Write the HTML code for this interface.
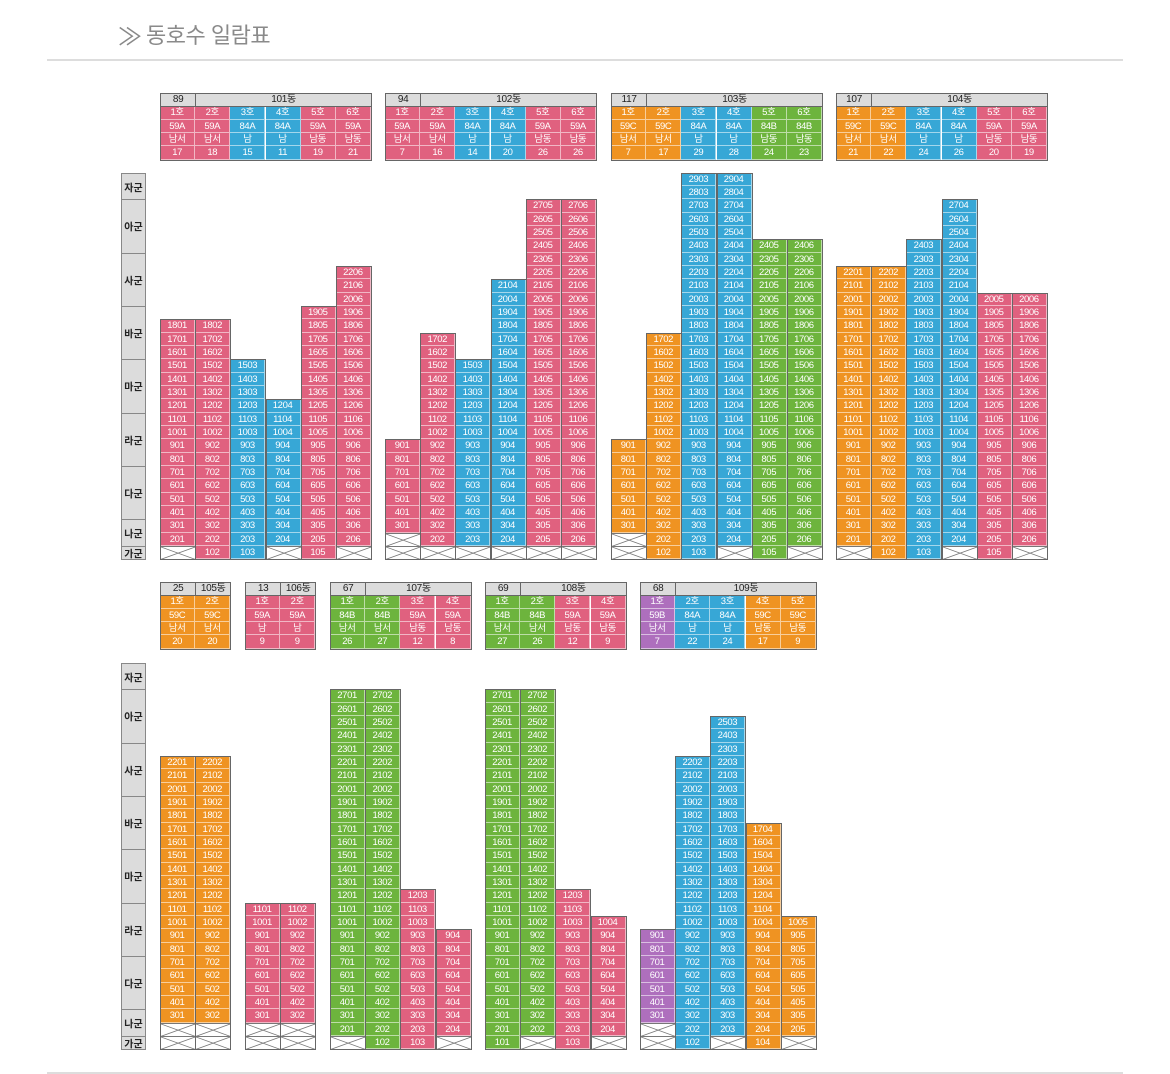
<!DOCTYPE html>
<html><head><meta charset="utf-8">
<style>
html,body{margin:0;padding:0;background:#fff;}
body{width:1170px;height:1074px;position:relative;overflow:hidden;font-family:"Liberation Sans","Noto Sans CJK KR",sans-serif;}
.c{position:absolute;box-sizing:border-box;color:#fff;font-size:9.5px;text-align:center;letter-spacing:-0.4px;border-right:1px solid rgba(255,255,255,.55);border-bottom:1px solid rgba(255,255,255,.55);}
.x{position:absolute;box-sizing:border-box;background:#fff;border:1px solid #777;}
.x svg{position:absolute;left:0;top:0;width:100%;height:100%;}
.h{position:absolute;box-sizing:border-box;background:#dcdcdc;color:#222;font-size:10px;text-align:center;border:1px solid #666;letter-spacing:-0.3px;}
.o{position:absolute;box-sizing:border-box;border:1px solid #666;pointer-events:none;}
.l{position:absolute;box-sizing:border-box;background:#dcdcdc;border:1px solid #888;color:#222;font-size:10px;font-weight:bold;text-align:center;}
.l span{position:absolute;left:0;right:0;top:50%;transform:translateY(-50%);}
</style></head><body>
<div style="position:absolute;left:118px;top:17px;font-size:24px;color:#888;">≫</div>
<div style="position:absolute;left:146px;top:18px;font-size:22px;color:#8a8a8a;letter-spacing:-0.5px;">동호수 일람표</div>
<div style="position:absolute;left:47px;top:59px;width:1076px;height:2px;background:#ddd;"></div>
<div style="position:absolute;left:47px;top:1072px;width:1076px;height:2px;background:#ddd;"></div>
<div id="root"></div>
<script>
var P='#e0617f',B='#37a7d6',O='#ef9322',G='#6db43d',U='#ae6fbd';
var CW=35.17,RH=13.333;
var html='';
function fmt(v){return Math.round(v*100)/100;}
function xcell(x,y,w,h){html+='<div class="x" style="left:'+fmt(x)+'px;top:'+fmt(y)+'px;width:'+fmt(w+1)+'px;height:'+fmt(h+1)+'px"><svg viewBox="0 0 10 10" preserveAspectRatio="none"><line x1="0" y1="0" x2="10" y2="10" stroke="#777" stroke-width="0.8" vector-effect="non-scaling-stroke"/><line x1="10" y1="0" x2="0" y2="10" stroke="#777" stroke-width="0.8" vector-effect="non-scaling-stroke"/></svg></div>';}
function building(bx,htop,base,cnt,name,cols){
  var n=cols.length;
  // header row 1
  html+='<div class="h" style="left:'+bx+'px;top:'+htop+'px;width:'+fmt(CW+1)+'px;height:'+fmt(RH+1)+'px;line-height:'+fmt(RH-1)+'px">'+cnt+'</div>';
  html+='<div class="h" style="left:'+fmt(bx+CW)+'px;top:'+htop+'px;width:'+fmt(CW*(n-1)+1)+'px;height:'+fmt(RH+1)+'px;line-height:'+fmt(RH-1)+'px">'+name+'</div>';
  for(var i=0;i<n;i++){
    var c=cols[i],x=bx+i*CW;
    var vals=[(i+1)+'호',c[1],c[2],(c[4]-c[3]+1)];
    for(var r=0;r<4;r++){
      var y=htop+RH*(r+1);
      html+='<div class="c" style="background:'+c[0]+';left:'+fmt(x)+'px;top:'+fmt(y)+'px;width:'+fmt(CW)+'px;height:'+fmt(RH)+'px;line-height:'+fmt(RH)+'px">'+vals[r]+'</div>';
    }
    for(var f=1;f<=c[4];f++){
      var y=base-(f-1)*RH;
      if(f<c[3]){xcell(x,y,CW,RH);continue;}
      html+='<div class="c" style="background:'+c[0]+';left:'+fmt(x)+'px;top:'+fmt(y)+'px;width:'+fmt(CW)+'px;height:'+fmt(RH)+'px;line-height:'+fmt(RH)+'px">'+f+'0'+(i+1)+'</div>';
    }
    var top=base-(c[4]-1)*RH;
    html+='<div class="o" style="left:'+fmt(x)+'px;top:'+fmt(top)+'px;width:'+fmt(CW+1)+'px;height:'+fmt(base+RH-top+1)+'px"></div>';
  }
  html+='<div class="o" style="left:'+bx+'px;top:'+fmt(htop+RH)+'px;width:'+fmt(CW*n+1)+'px;height:'+fmt(RH*4+1)+'px"></div>';
}
function labels(base){
  var g=[['가군',1,1],['나군',2,3],['다군',4,7],['라군',8,11],['마군',12,15],['바군',16,19],['사군',20,23],['아군',24,27],['자군',28,29]];
  for(var i=0;i<g.length;i++){
    var top=base-(g[i][2]-1)*RH,bot=base-(g[i][1]-1)*RH+RH;
    html+='<div class="l" style="left:121px;top:'+fmt(top)+'px;width:25px;height:'+fmt(bot-top+1)+'px"><span>'+g[i][0]+'</span></div>';
  }
}
var TB=546,BB=1036;
labels(TB);labels(BB);
building(160,93,TB,'89','101동',[[P,'59A','남서',2,18],[P,'59A','남서',1,18],[B,'84A','남',1,15],[B,'84A','남',2,12],[P,'59A','남동',1,19],[P,'59A','남동',2,22]]);
building(385,93,TB,'94','102동',[[P,'59A','남서',3,9],[P,'59A','남서',2,17],[B,'84A','남',2,15],[B,'84A','남',2,21],[P,'59A','남동',2,27],[P,'59A','남동',2,27]]);
building(611,93,TB,'117','103동',[[O,'59C','남서',3,9],[O,'59C','남서',1,17],[B,'84A','남',1,29],[B,'84A','남',2,29],[G,'84B','남동',1,24],[G,'84B','남동',2,24]]);
building(836,93,TB,'107','104동',[[O,'59C','남서',2,22],[O,'59C','남서',1,22],[B,'84A','남',1,24],[B,'84A','남',2,27],[P,'59A','남동',1,20],[P,'59A','남동',2,20]]);
building(160,582,BB,'25','105동',[[O,'59C','남서',3,22],[O,'59C','남서',3,22]]);
building(245,582,BB,'13','106동',[[P,'59A','남',3,11],[P,'59A','남',3,11]]);
building(330,582,BB,'67','107동',[[G,'84B','남서',2,27],[G,'84B','남서',1,27],[P,'59A','남동',1,12],[P,'59A','남동',2,9]]);
building(485,582,BB,'69','108동',[[G,'84B','남서',1,27],[G,'84B','남서',2,27],[P,'59A','남동',1,12],[P,'59A','남동',2,10]]);
building(640,582,BB,'68','109동',[[U,'59B','남서',3,9],[B,'84A','남',1,22],[B,'84A','남',2,25],[O,'59C','남동',1,17],[O,'59C','남동',2,10]]);
document.getElementById('root').innerHTML=html;
</script>
</body></html>
